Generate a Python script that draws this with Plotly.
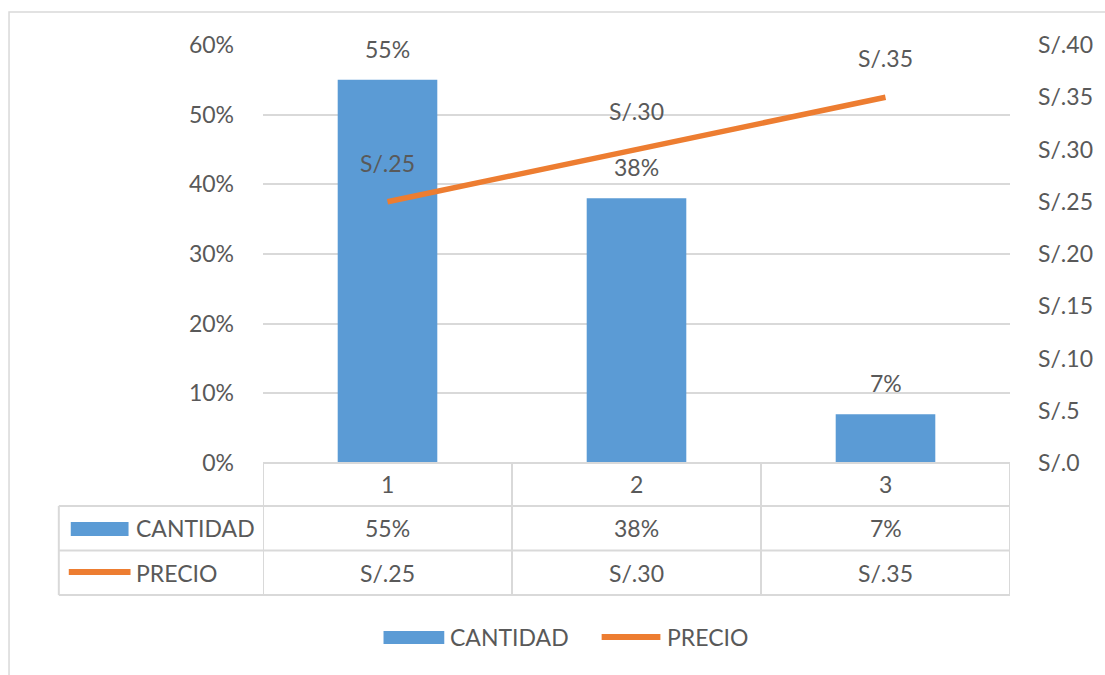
import plotly.graph_objects as go

# ---- data ----
categories = [1, 2, 3]
cantidad = [0.55, 0.38, 0.07]
precio = [0.25, 0.30, 0.35]
left_ticks = [0, 0.1, 0.2, 0.3, 0.4, 0.5, 0.6]
right_ticks = [0, 0.05, 0.10, 0.15, 0.20, 0.25, 0.30, 0.35, 0.40]
series_names = ["CANTIDAD", "PRECIO"]

BLUE = "#5B9BD5"
ORANGE = "#ED7D31"
TXT = "#595959"
GRID = "#D9D9D9"
FONT = "Lato"
FS = 23

W, H = 1105, 675
L, R, T, B = 263, 92, 45, 212
PW, PH = W - L - R, H - T - B


def xp(px):
    return (px - L) / PW


def yp(py):
    return (H - B - py) / PH


def soles(v):
    return "S/." + str(int(round(v * 100)))


def pct(v):
    return f"{int(round(v * 100))}%"


fig = go.Figure()
fig.add_trace(go.Bar(x=categories, y=cantidad, width=0.4, marker=dict(color=BLUE, line=dict(width=0)),
                     name=series_names[0], showlegend=False, hoverinfo="skip"))
fig.add_trace(go.Scatter(x=categories, y=precio, yaxis="y2", mode="lines",
                         line=dict(color=ORANGE, width=5.5), name=series_names[1],
                         showlegend=False, hoverinfo="skip"))

ann = []
shapes = []
# data labels
for c, v in zip(categories, cantidad):
    ann.append(dict(x=c, y=v, xref="x", yref="y", text=pct(v), showarrow=False,
                    yanchor="middle", yshift=31, font=dict(family=FONT, size=FS, color=TXT)))
for c, v in zip(categories, precio):
    ann.append(dict(x=c, y=v, xref="x", yref="y2", text=soles(v), showarrow=False,
                    yanchor="middle", yshift=39, font=dict(family=FONT, size=FS, color=TXT)))

# data table
line_style = dict(color=GRID, width=2)
rows_py = [463, 506, 550.5, 595]
shapes.append(dict(type="line", xref="x", yref="paper", x0=0.5, x1=3.5, y0=yp(rows_py[0]), y1=yp(rows_py[0]), line=line_style))
for py in rows_py[1:]:
    shapes.append(dict(type="line", xref="paper", yref="paper", x0=xp(58), x1=1, y0=yp(py), y1=yp(py), line=line_style))
for xb in [0.5, 1.5, 2.5, 3.5]:
    shapes.append(dict(type="line", xref="x", yref="paper", x0=xb, x1=xb, y0=yp(463), y1=yp(595), line=line_style))
shapes.append(dict(type="line", xref="paper", yref="paper", x0=xp(58), x1=xp(58), y0=yp(506), y1=yp(595), line=line_style))

row_centers = [484.5, 528, 573]
for i, c in enumerate(categories):
    ann.append(dict(x=c, y=yp(row_centers[0]), xref="x", yref="paper", text=str(c), showarrow=False,
                    yanchor="middle", font=dict(family=FONT, size=FS, color=TXT)))
    ann.append(dict(x=c, y=yp(row_centers[1]), xref="x", yref="paper", text=pct(cantidad[i]), showarrow=False,
                    yanchor="middle", font=dict(family=FONT, size=FS, color=TXT)))
    ann.append(dict(x=c, y=yp(row_centers[2]), xref="x", yref="paper", text=soles(precio[i]), showarrow=False,
                    yanchor="middle", font=dict(family=FONT, size=FS, color=TXT)))

# legend keys in table
shapes.append(dict(type="rect", xref="paper", yref="paper", x0=xp(70), x1=xp(128), y0=yp(536), y1=yp(522),
                   fillcolor=BLUE, line=dict(width=0)))
shapes.append(dict(type="line", xref="paper", yref="paper", x0=xp(68), x1=xp(130), y0=yp(572), y1=yp(572),
                   line=dict(color=ORANGE, width=6)))
ann.append(dict(x=xp(133), y=yp(528), xref="paper", yref="paper", text=series_names[0], showarrow=False,
                xanchor="left", yanchor="middle", font=dict(family=FONT, size=FS, color=TXT)))
ann.append(dict(x=xp(133), y=yp(573), xref="paper", yref="paper", text=series_names[1], showarrow=False,
                xanchor="left", yanchor="middle", font=dict(family=FONT, size=FS, color=TXT)))

# bottom legend
shapes.append(dict(type="rect", xref="paper", yref="paper", x0=xp(384), x1=xp(445), y0=yp(644), y1=yp(631),
                   fillcolor=BLUE, line=dict(width=0)))
shapes.append(dict(type="line", xref="paper", yref="paper", x0=xp(603), x1=xp(662), y0=yp(637), y1=yp(637),
                   line=dict(color=ORANGE, width=6)))
ann.append(dict(x=xp(449), y=yp(637), xref="paper", yref="paper", text=series_names[0], showarrow=False,
                xanchor="left", yanchor="middle", font=dict(family=FONT, size=FS, color=TXT)))
ann.append(dict(x=xp(667), y=yp(637), xref="paper", yref="paper", text=series_names[1], showarrow=False,
                xanchor="left", yanchor="middle", font=dict(family=FONT, size=FS, color=TXT)))

# chart area border
shapes.append(dict(type="rect", xref="paper", yref="paper", x0=xp(8), x1=xp(1112), y0=yp(682), y1=yp(12),
                   line=dict(color=GRID, width=1.5), fillcolor="rgba(0,0,0,0)", layer="below"))

fig.update_layout(
    width=W, height=H,
    margin=dict(l=L, r=R, t=T, b=B, pad=0),
    paper_bgcolor="white", plot_bgcolor="white",
    showlegend=False,
    font=dict(family=FONT, size=FS, color=TXT),
    xaxis=dict(range=[0.5, 3.5], showticklabels=False, showgrid=False, zeroline=False, showline=False,
               fixedrange=True),
    yaxis=dict(range=[0, 0.6], tickvals=left_ticks, ticktext=[pct(v) for v in left_ticks],
               showgrid=True, gridcolor=GRID, gridwidth=1.5, zeroline=False, showline=False,
               ticks="", ticklabelstandoff=28, tickfont=dict(family=FONT, size=FS, color=TXT)),
    yaxis2=dict(range=[0, 0.4], overlaying="y", side="right", tickvals=right_ticks,
                ticktext=[soles(v) for v in right_ticks], showgrid=False, zeroline=False, showline=False,
                ticks="", ticklabelstandoff=27, tickfont=dict(family=FONT, size=FS, color=TXT)),
    annotations=ann,
    shapes=shapes,
)

fig.write_html("out.html", config={"displayModeBar": False},
               post_script="document.body.style.margin='0';document.body.style.overflow='hidden';")
